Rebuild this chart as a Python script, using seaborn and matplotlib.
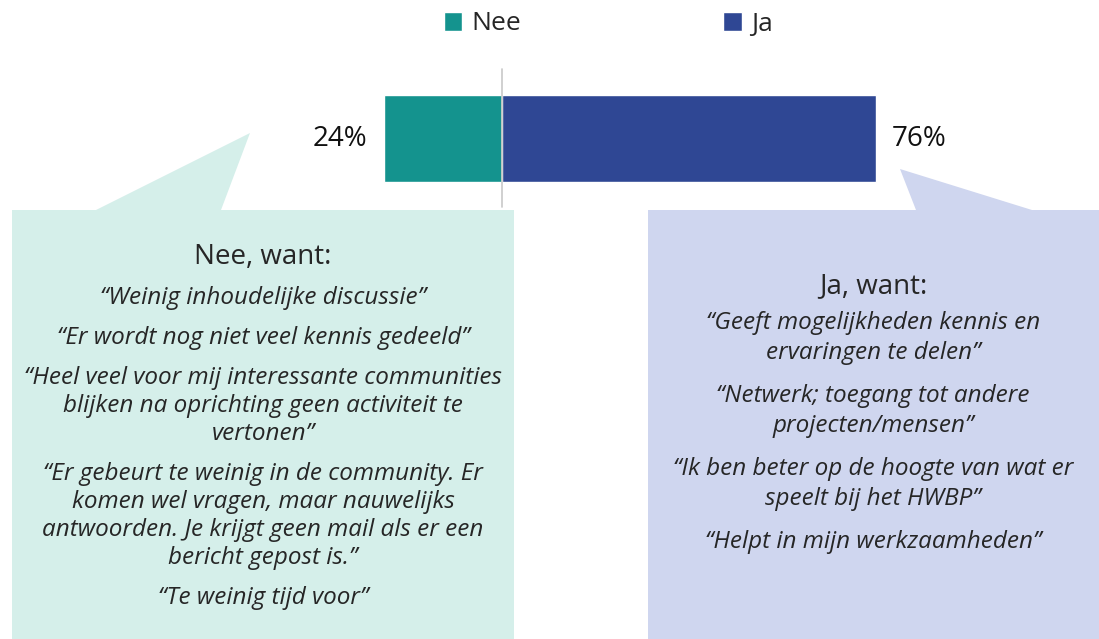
import numpy as np
import pandas as pd
import matplotlib.pyplot as plt
from matplotlib.patches import Polygon
import seaborn as sns

# ---------------------------------------------------------------
# DATA
# ---------------------------------------------------------------
antwoorden = ["Nee", "Ja"]
percentages = [24, 76]
richting = [-1, 1]          # Nee links van de nullijn, Ja rechts
kleuren = ["#14938E", "#2F4794"]

titel_nee = "Nee, want:"
citaten_nee = [
    ["\u201cWeinig inhoudelijke discussie\u201d"],
    ["\u201cEr wordt nog niet veel kennis gedeeld\u201d"],
    ["\u201cHeel veel voor mij interessante communities",
     "blijken na oprichting geen activiteit te",
     "vertonen\u201d"],
    ["\u201cEr gebeurt te weinig in de community. Er",
     "komen wel vragen, maar nauwelijks",
     "antwoorden. Je krijgt geen mail als er een",
     "bericht gepost is.\u201d"],
    ["\u201cTe weinig tijd voor\u201d"],
]

titel_ja = "Ja, want:"
citaten_ja = [
    ["\u201cGeeft mogelijkheden kennis en",
     "ervaringen te delen\u201d"],
    ["\u201cNetwerk; toegang tot andere",
     "projecten/mensen\u201d"],
    ["\u201cIk ben beter op de hoogte van wat er",
     "speelt bij het HWBP\u201d"],
    ["\u201cHelpt in mijn werkzaamheden\u201d"],
]

# ---------------------------------------------------------------
# OPMAAK
# ---------------------------------------------------------------
sns.set_theme(style="white")
plt.rcParams['font.family'] = ['Open Sans', 'DejaVu Sans']

W, H = 1099, 639
TEKST = "#262626"
KADER_NEE = "#D5EFEA"
KADER_JA = "#CFD6EF"

fig = plt.figure(figsize=(W / 100, H / 100), dpi=100)

# achtergrond-as in pixels (y omlaag) voor de tekstballonnen
ax_bg = fig.add_axes([0, 0, 1, 1], zorder=0)
ax_bg.set_xlim(0, W)
ax_bg.set_ylim(H, 0)
ax_bg.set_axis_off()

ballon_nee = [(12, H), (12, 210), (96, 210), (250, 133), (221, 210), (514, 210), (514, H)]
ballon_ja = [(648, H), (648, 210), (916, 210), (900, 169), (1032, 210), (W, 210), (W, H)]
ax_bg.add_patch(Polygon(ballon_nee, closed=True, facecolor=KADER_NEE, edgecolor="none"))
ax_bg.add_patch(Polygon(ballon_ja, closed=True, facecolor=KADER_JA, edgecolor="none"))


def schrijf_ballon(ax, xc, y_titel, titel, citaten, y_start, regel, alinea):
    ax.text(xc, y_titel, titel, ha="center", va="center", fontsize=20, color=TEKST)
    y = y_start
    for citaat in citaten:
        for r in citaat:
            ax.text(xc, y, r, ha="center", va="center", fontsize=17.5, style="italic", color=TEKST)
            y += regel
        y += alinea - regel


schrijf_ballon(ax_bg, 263, 257, titel_nee, citaten_nee, 298, 28, 40)
schrijf_ballon(ax_bg, 873, 286, titel_ja, citaten_ja, 323, 30, 43)

# ---------------------------------------------------------------
# BALK
# ---------------------------------------------------------------
ax = fig.add_axes([0, 0, 1, 1], zorder=1)
ax.patch.set_alpha(0)

df = pd.DataFrame({
    "antwoord": antwoorden,
    "score": [p * r for p, r in zip(percentages, richting)],
    "vraag": ["", ""],
})
sns.barplot(data=df, x="score", y="vraag", hue="antwoord", hue_order=antwoorden,
            palette=kleuren, dodge=False, width=0.8, saturation=1, orient="h", ax=ax)

for cont, p in zip(ax.containers, percentages):
    ax.bar_label(cont, labels=[f"{p}%"], padding=12, fontsize=20, color="#111111")

px_per_pct = 4.915
x0 = 502
ax.set_xlim(-x0 / px_per_pct, (W - x0) / px_per_pct)
px_per_unit = 87 / 0.8
yc = 138.5
ax.set_ylim((H - yc) / px_per_unit, -yc / px_per_unit)
ax.axvline(0, ymin=1 - 207 / H, ymax=1 - 69 / H, color="#C8C8C8", lw=1.2, zorder=5)
ax.set_axis_off()

handles, labels = ax.get_legend_handles_labels()
ax.legend(handles, labels, loc="center left", bbox_to_anchor=(444 / W, 1 - 24 / H),
          bbox_transform=fig.transFigure, ncol=2, frameon=False, fontsize=19,
          handlelength=0.7, handleheight=0.7, handletextpad=0.35, columnspacing=7.65,
          borderpad=0, borderaxespad=0)

plt.savefig("out.png", dpi=100)
plt.close()
